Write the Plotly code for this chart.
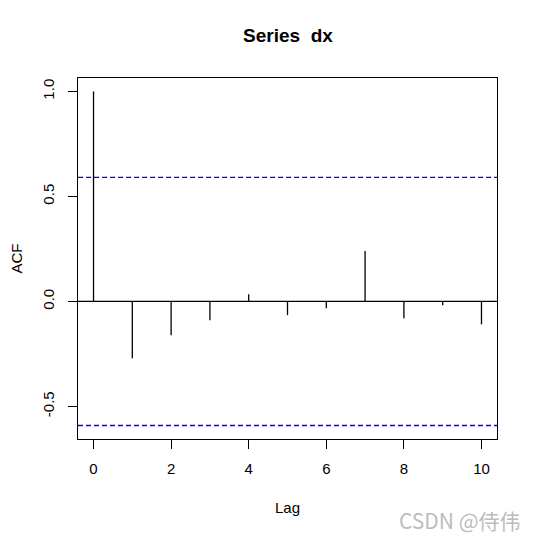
import plotly.graph_objects as go

lags = [0, 1, 2, 3, 4, 5, 6, 7, 8, 9, 10]
acf_vals = [1.0, -0.270, -0.161, -0.089, 0.034, -0.065, -0.032, 0.240, -0.080, -0.018, -0.109]
ci = 0.591  # 1.96 / sqrt(11)

x_ticks = [0, 2, 4, 6, 8, 10]
y_ticks = [-0.5, 0.0, 0.5, 1.0]
y_tick_text = ["-0.5", "0.0", "0.5", "1.0"]

FONT = "Liberation Sans, Arial, sans-serif"

# one vertical segment per lag, from 0 up/down to the acf value
seg_x, seg_y = [], []
for lag, v in zip(lags, acf_vals):
    seg_x += [lag, lag, None]
    seg_y += [0, v, None]

fig = go.Figure()
fig.add_trace(go.Scatter(x=seg_x, y=seg_y, mode="lines",
                         line=dict(color="black", width=1.3),
                         hoverinfo="skip", showlegend=False))

# zero line and confidence bounds
fig.add_hline(y=0, line=dict(color="black", width=1.3))
for b in (ci, -ci):
    fig.add_hline(y=b, line=dict(color="#0000ff", width=1.4, dash="5px,3px"))

axis_common = dict(
    showline=True, linecolor="black", linewidth=1.3, mirror=True,
    ticks="outside", ticklen=9, tickcolor="black", tickwidth=1.3,
    showgrid=False, zeroline=False, automargin=False,
    tickfont=dict(family=FONT, size=15, color="black"),
)

fig.update_xaxes(range=[-0.4, 10.4], tickvals=x_ticks, ticklabelstandoff=7,
                 title=dict(text="Lag", font=dict(family=FONT, size=15, color="black"), standoff=26),
                 **axis_common)
fig.update_yaxes(range=[-0.655, 1.064], tickvals=y_ticks, ticktext=y_tick_text, tickangle=-90,
                 ticklabelstandoff=8,
                 title=dict(text="ACF", font=dict(family=FONT, size=15, color="black"), standoff=20),
                 **axis_common)

fig.update_layout(
    width=538, height=537,
    margin=dict(l=70, r=49, t=70, b=106),
    paper_bgcolor="white", plot_bgcolor="white",
    title=dict(text="<b>Series\u00a0 dx</b>", x=(288 - 8) / 538, xanchor="center",
               y=1 - (35 - 8) / 537, yanchor="middle",
               font=dict(family=FONT, size=19, color="black")),
    annotations=[dict(text="CSDN @侍伟", xref="paper", yref="paper",
                      x=(523 - 8 - 70) / 419, y=-(520 - 8 - 431) / 361,
                      xanchor="right", yanchor="middle", showarrow=False,
                      font=dict(family="Noto Sans CJK SC, sans-serif", size=21, color="rgba(170,170,170,0.8)"))],
)

fig.write_html("out.html")
